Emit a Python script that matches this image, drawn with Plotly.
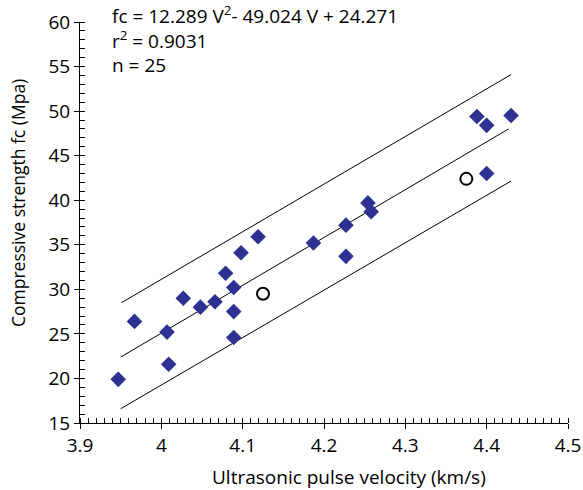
import plotly.graph_objects as go

# Measured specimens (diamonds)
velocity = [3.947, 3.967, 4.007, 4.009, 4.027, 4.048, 4.066, 4.079, 4.089, 4.089,
            4.089, 4.098, 4.119, 4.187, 4.227, 4.227, 4.254, 4.258, 4.388, 4.400,
            4.400, 4.430]
strength = [19.9, 26.4, 25.2, 21.6, 29.0, 28.0, 28.6, 31.8, 30.2, 27.5,
            24.6, 34.1, 35.9, 35.2, 37.2, 33.7, 39.7, 38.7, 49.4, 48.4,
            43.0, 49.5]

# Open circles
velocity_open = [4.125, 4.375]
strength_open = [29.5, 42.4]

# Fitted line and prediction band (end points)
fit_x = [3.950, 4.427]
fit_y = [22.4, 48.0]
upper_x = [3.951, 4.430]
upper_y = [28.5, 54.1]
lower_x = [3.950, 4.430]
lower_y = [16.6, 42.15]

x_ticks = [3.9, 4.0, 4.1, 4.2, 4.3, 4.4, 4.5]
x_tick_text = ["3.9", "4", "4.1", "4.2", "4.3", "4.4", "4.5"]
y_ticks = [15, 20, 25, 30, 35, 40, 45, 50, 55, 60]

FONT = "Open Sans"
fig = go.Figure()
for lx, ly in ((upper_x, upper_y), (fit_x, fit_y), (lower_x, lower_y)):
    fig.add_trace(go.Scatter(x=lx, y=ly, mode="lines",
                             line=dict(color="black", width=1), showlegend=False,
                             hoverinfo="skip"))
fig.add_trace(go.Scatter(x=velocity, y=strength, mode="markers",
                         marker=dict(symbol="diamond", size=12, color="#2E3192"),
                         showlegend=False))
fig.add_trace(go.Scatter(x=velocity_open, y=strength_open, mode="markers",
                         marker=dict(symbol="circle-open", size=12, color="black",
                                     line=dict(width=2, color="black")),
                         showlegend=False))
# invisible trace for crossing-tick overlay axes
fig.add_trace(go.Scatter(x=[None], y=[None], xaxis="x2", yaxis="y2",
                         showlegend=False, hoverinfo="skip"))

xr = [3.9, 4.5]
yr = [15, 60]
fig.update_layout(
    width=583, height=490,
    margin=dict(l=80, r=15, t=22, b=67),
    paper_bgcolor="white", plot_bgcolor="white",
    font=dict(family=FONT, size=19, color="black"),
    xaxis=dict(range=xr, tickvals=x_ticks, ticktext=x_tick_text, automargin=False,
               ticks="outside", ticklen=5, tickwidth=1, tickcolor="black",
               showline=True, linecolor="black", linewidth=1, showgrid=False,
               zeroline=False,
               minor=dict(dtick=0.01, ticks="inside", ticklen=5, tickcolor="black",
                          tickwidth=1, showgrid=False),
               tickfont=dict(size=19)),
    yaxis=dict(range=yr, tickvals=y_ticks, automargin=False,
               ticks="outside", ticklen=5, tickwidth=1, tickcolor="black",
               showline=True, linecolor="black", linewidth=1, showgrid=False,
               zeroline=False,
               minor=dict(dtick=1, ticks="inside", ticklen=5, tickcolor="black",
                          tickwidth=1, showgrid=False),
               tickfont=dict(size=19)),
    xaxis2=dict(range=xr, overlaying="x", anchor="y2", side="bottom", automargin=False,
                tickvals=x_ticks, ticks="inside", ticklen=5, tickcolor="black",
                showticklabels=False, showgrid=False, zeroline=False, showline=False),
    yaxis2=dict(range=yr, overlaying="y", anchor="x2", side="left", automargin=False,
                tickvals=y_ticks, ticks="inside", ticklen=5, tickcolor="black",
                showticklabels=False, showgrid=False, zeroline=False, showline=False),
)

PW, PH = 488, 401  # plot area size in px
# axis titles placed as in the reference
fig.add_annotation(text="Ultrasonic pulse velocity (km/s)", xref="paper", yref="paper",
                   x=(349 - 80) / PW, y=(423 - 477) / PH, xanchor="center",
                   yanchor="middle", showarrow=False, font=dict(size=19))
fig.add_annotation(text="Compressive strength fc (Mpa)", xref="paper", yref="paper",
                   x=(18 - 80) / PW, y=(423 - 203) / PH, xanchor="center",
                   yanchor="middle", textangle=-90, showarrow=False,
                   font=dict(size=17.5))

stats_lines = ["fc = 12.289 V<sup>2</sup>- 49.024 V + 24.271", "r<sup>2</sup> = 0.9031", "n = 25"]
fig.add_annotation(text="<br>".join(stats_lines), xref="paper", yref="paper",
                   x=(110 - 80) / PW, y=(423 - 39.5) / PH, align="left",
                   xanchor="left", yanchor="middle", showarrow=False,
                   font=dict(size=19, family=FONT))

fig.write_html("out.html", config={"displayModeBar": False},
               post_script="document.body.style.margin='0px';")
